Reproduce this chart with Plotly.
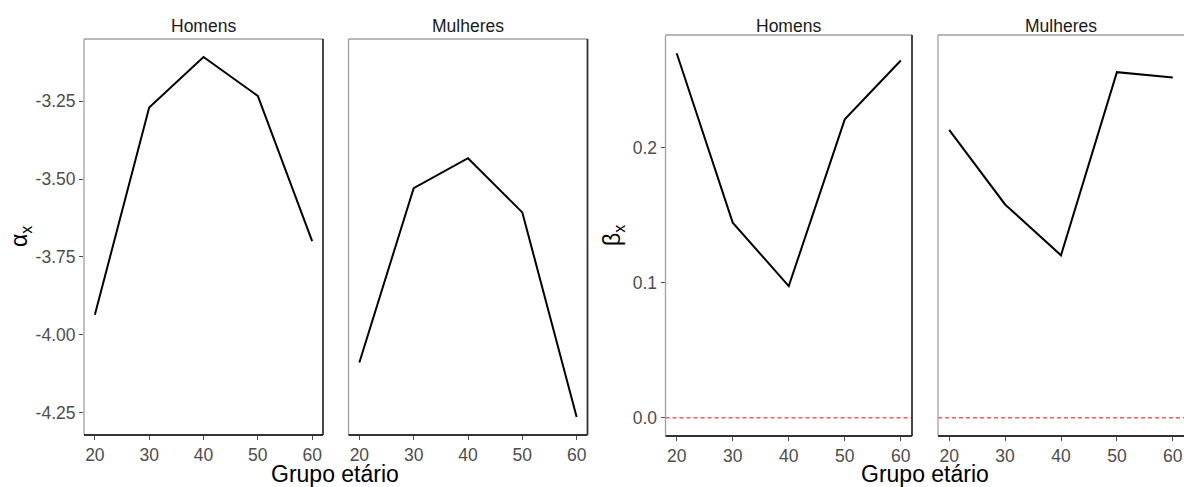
import plotly.graph_objects as go

# ---- data ----
idade = [20, 30, 40, 50, 60]
alpha_homens = [-3.936, -3.270, -3.108, -3.233, -3.699]
alpha_mulheres = [-4.089, -3.529, -3.433, -3.607, -4.264]
beta_homens = [0.270, 0.1445, 0.0975, 0.221, 0.2646]
beta_mulheres = [0.2133, 0.158, 0.1203, 0.256, 0.252]
facetas = ["Homens", "Mulheres"]
alpha_ticks = [-4.25, -4.00, -3.75, -3.50, -3.25]
alpha_ticklabels = ["-4.25", "-4.00", "-3.75", "-3.50", "-3.25"]
beta_ticks = [0.0, 0.1, 0.2]
beta_ticklabels = ["0.0", "0.1", "0.2"]
x_ticks = [20, 30, 40, 50, 60]
x_title = "Grupo etário"

W, H = 1184, 487
FONT = "Liberation Sans, Arial, sans-serif"


def expand(vals, mult=0.05):
    lo, hi = min(vals), max(vals)
    d = (hi - lo) * mult
    return [lo - d, hi + d]


def dx(a, b):
    return [max(0, a / W), min(1, b / W)]


def dy(top, bottom):
    return [1 - bottom / H, 1 - top / H]


alpha_range = expand(alpha_homens + alpha_mulheres)
beta_range = expand(beta_homens + beta_mulheres + [0.0])
x_range = [18, 62]

panels = [
    ((84, 323), (39, 435), alpha_homens, alpha_range, True, alpha_ticks, alpha_ticklabels, facetas[0]),
    ((348.5, 587.5), (39, 435), alpha_mulheres, alpha_range, False, alpha_ticks, alpha_ticklabels, facetas[1]),
    ((665.5, 912), (35, 436), beta_homens, beta_range, True, beta_ticks, beta_ticklabels, facetas[0]),
    ((938, 1184.5), (35, 436), beta_mulheres, beta_range, False, beta_ticks, beta_ticklabels, facetas[1]),
]

fig = go.Figure()
layout = dict(
    width=W, height=H,
    margin=dict(l=0, r=0, t=0, b=0),
    plot_bgcolor="white", paper_bgcolor="white",
    showlegend=False,
    font=dict(family=FONT),
)
shapes = []
annotations = []

for i, (xp, yp, vals, yr, showy, yt, ytl, strip) in enumerate(panels, start=1):
    xa = "x" if i == 1 else f"x{i}"
    ya = "y" if i == 1 else f"y{i}"
    fig.add_trace(go.Scatter(
        x=idade, y=vals, mode="lines",
        line=dict(color="black", width=2),
        xaxis=xa, yaxis=ya, hoverinfo="skip",
    ))
    if i >= 3:
        fig.add_trace(go.Scatter(
            x=x_range, y=[0, 0], mode="lines",
            line=dict(color="#ff3b3b", width=1.3, dash="4px,3px"),
            opacity=0.85,
            xaxis=xa, yaxis=ya, hoverinfo="skip",
        ))
    layout[f"xaxis{'' if i == 1 else i}"] = dict(
        domain=dx(*xp), anchor=ya, range=x_range,
        tickmode="array", tickvals=x_ticks,
        ticks="outside", ticklen=4, tickwidth=1, tickcolor="#4d4d4d",
        tickfont=dict(size=17.5, color="#4d4d4d", family=FONT),
        showgrid=False, zeroline=False, showline=False, fixedrange=True,
    )
    layout[f"yaxis{'' if i == 1 else i}"] = dict(
        domain=dy(*yp), anchor=xa, range=yr,
        tickmode="array", tickvals=yt, ticktext=ytl,
        ticks="outside" if showy else "", ticklen=4, tickwidth=1, tickcolor="#4d4d4d",
        showticklabels=showy,
        tickfont=dict(size=17.5, color="#4d4d4d", family=FONT),
        showgrid=False, zeroline=False, showline=False, fixedrange=True,
    )
    xd = f"{xa} domain"
    yd = f"{ya} domain"
    shapes.append(dict(type="line", xref=xd, yref=yd, x0=0, x1=1, y0=1, y1=1,
                       line=dict(color="#a0a0a0", width=1.3)))
    shapes.append(dict(type="line", xref=xd, yref=yd, x0=0, x1=0, y0=0, y1=1,
                       line=dict(color="#a0a0a0", width=1.3)))
    shapes.append(dict(type="line", xref=xd, yref=yd, x0=0, x1=1, y0=0, y1=0,
                       line=dict(color="#333333", width=1.8)))
    if i != 4:
        shapes.append(dict(type="line", xref=xd, yref=yd, x0=1, x1=1, y0=0, y1=1,
                           line=dict(color="#333333", width=1.8)))
    annotations.append(dict(
        text=strip, xref="paper", yref="paper",
        x=(xp[0] + xp[1]) / 2 / W, y=1 - 26 / H,
        showarrow=False, xanchor="center", yanchor="middle",
        font=dict(size=17.5, color="#1a1a1a", family=FONT),
    ))

annotations.append(dict(text="α<sub>x</sub>", xref="paper", yref="paper",
                        x=20 / W, y=1 - 237 / H, textangle=-90, showarrow=False,
                        xanchor="center", yanchor="middle",
                        font=dict(size=23, color="black", family=FONT)))
annotations.append(dict(text="β<sub>x</sub>", xref="paper", yref="paper",
                        x=613 / W, y=1 - 236 / H, textangle=-90, showarrow=False,
                        xanchor="center", yanchor="middle",
                        font=dict(size=23, color="black", family=FONT)))
for cx in (335, 925):
    annotations.append(dict(text=x_title, xref="paper", yref="paper",
                            x=cx / W, y=1 - 474 / H, showarrow=False,
                            xanchor="center", yanchor="middle",
                            font=dict(size=23, color="black", family=FONT)))

layout["shapes"] = shapes
layout["annotations"] = annotations
fig.update_layout(**layout)
fig.write_html(
    "out.html",
    config={"displayModeBar": False},
    post_script="document.body.style.margin='0';document.body.style.overflow='hidden';",
)
